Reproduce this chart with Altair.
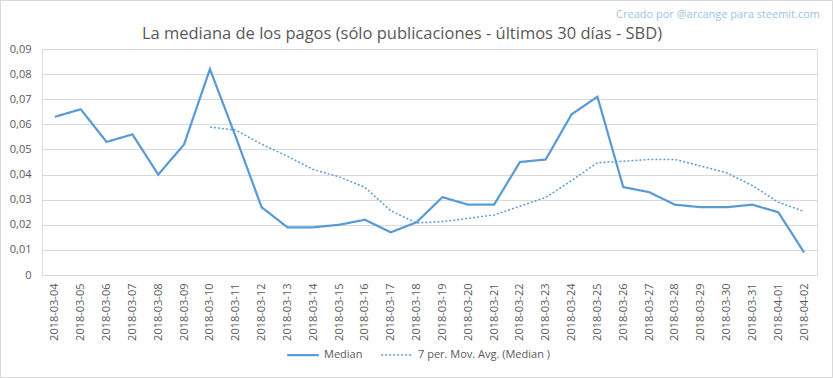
import altair as alt
import pandas as pd

dates = [
    "2018-03-04", "2018-03-05", "2018-03-06", "2018-03-07", "2018-03-08",
    "2018-03-09", "2018-03-10", "2018-03-11", "2018-03-12", "2018-03-13",
    "2018-03-14", "2018-03-15", "2018-03-16", "2018-03-17", "2018-03-18",
    "2018-03-19", "2018-03-20", "2018-03-21", "2018-03-22", "2018-03-23",
    "2018-03-24", "2018-03-25", "2018-03-26", "2018-03-27", "2018-03-28",
    "2018-03-29", "2018-03-30", "2018-03-31", "2018-04-01", "2018-04-02",
]
median = [
    0.063, 0.066, 0.053, 0.056, 0.040, 0.052, 0.082, 0.055, 0.027, 0.019,
    0.019, 0.020, 0.022, 0.017, 0.021, 0.031, 0.028, 0.028, 0.045, 0.046,
    0.064, 0.071, 0.035, 0.033, 0.028, 0.027, 0.027, 0.028, 0.025, 0.009,
]
mov_avg = [
    None, None, None, None, None, None, 0.0589, 0.0577, 0.0521, 0.0473,
    0.0420, 0.0391, 0.0349, 0.0256, 0.0207, 0.0213, 0.0226, 0.0239, 0.0274, 0.0309,
    0.0376, 0.0447, 0.0453, 0.0460, 0.0460, 0.0434, 0.0407, 0.0356, 0.0290, 0.0253,
]
y_ticks = [0, 0.01, 0.02, 0.03, 0.04, 0.05, 0.06, 0.07, 0.08, 0.09]
series_names = ["Median", "7 per. Mov. Avg. (Median )"]
title_text = "La mediana de los pagos (sólo publicaciones - últimos 30 días - SBD)"
watermark = "Creado por @arcange para steemit.com"

rows = []
for d, m in zip(dates, median):
    rows.append({"date": d, "value": m, "series": series_names[0]})
for d, a in zip(dates, mov_avg):
    if a is not None:
        rows.append({"date": d, "value": a, "series": series_names[1]})
df = pd.DataFrame(rows)

FONT = "Open Sans"
GRAY = "#595959"
BLUE = "#5B9BD5"
GRID = "#D9D9D9"

leg = alt.Legend(
    title=None, orient="none", legendX=244, legendY=289, direction="horizontal",
    symbolType="stroke", symbolSize=1000, labelFont=FONT, labelFontSize=11,
    labelColor=GRAY, columnPadding=15, labelOffset=4,
)

lines = alt.Chart(df).mark_line().encode(
    x=alt.X(
        "date:O", sort=dates,
        scale=alt.Scale(type="point", padding=0.5),
        axis=alt.Axis(
            title=None, labelAngle=270, labelPadding=8, ticks=False,
            domainColor=GRID, labelFont=FONT, labelFontSize=11,
            labelColor=GRAY, grid=False, labelOverlap=False,
        ),
    ),
    y=alt.Y(
        "value:Q",
        scale=alt.Scale(domain=[0, 0.09], nice=False, zero=True),
        axis=alt.Axis(
            title=None, values=y_ticks,
            labelExpr="datum.value == 0 ? '0' : replace(format(datum.value, '.2f'), '.', ',')",
            domain=False, ticks=False, gridColor=GRID, labelPadding=11,
            labelFont=FONT, labelFontSize=11, labelColor=GRAY,
        ),
    ),
    color=alt.Color("series:N", scale=alt.Scale(domain=series_names, range=[BLUE, BLUE]), legend=leg),
    strokeDash=alt.StrokeDash("series:N", scale=alt.Scale(domain=series_names, range=[[1, 0], [2, 2]]), legend=leg),
    strokeWidth=alt.StrokeWidth("series:N", scale=alt.Scale(domain=series_names, range=[2.25, 1.5]), legend=leg),
)

wm = alt.Chart(pd.DataFrame({"t": [watermark]})).mark_text(
    align="right", baseline="middle", font=FONT, fontSize=11, color="#9DC3E6"
).encode(x=alt.value(778), y=alt.value(-34), text="t:N")

ttl = alt.Chart(pd.DataFrame({"t": [title_text]})).mark_text(
    align="center", baseline="middle", font=FONT, fontSize=16.5, color=GRAY
).encode(x=alt.value(360), y=alt.value(-15), text="t:N")

border = alt.Chart(pd.DataFrame({"t": [1]})).mark_rect(
    fill="transparent", stroke=GRID, strokeWidth=1
).encode(x=alt.value(-41.5), x2=alt.value(790.5), y=alt.value(-48.5), y2=alt.value(328.5))

chart = alt.layer(border, lines, wm, ttl).properties(
    width=775, height=226,
    autosize=alt.AutoSizeParams(type="none"),
    padding={"left": 42, "top": 49, "right": 16, "bottom": 103},
).configure_view(stroke=None).configure(background="white")

chart.save("out.html", embed_options={"renderer": "svg", "actions": False})
